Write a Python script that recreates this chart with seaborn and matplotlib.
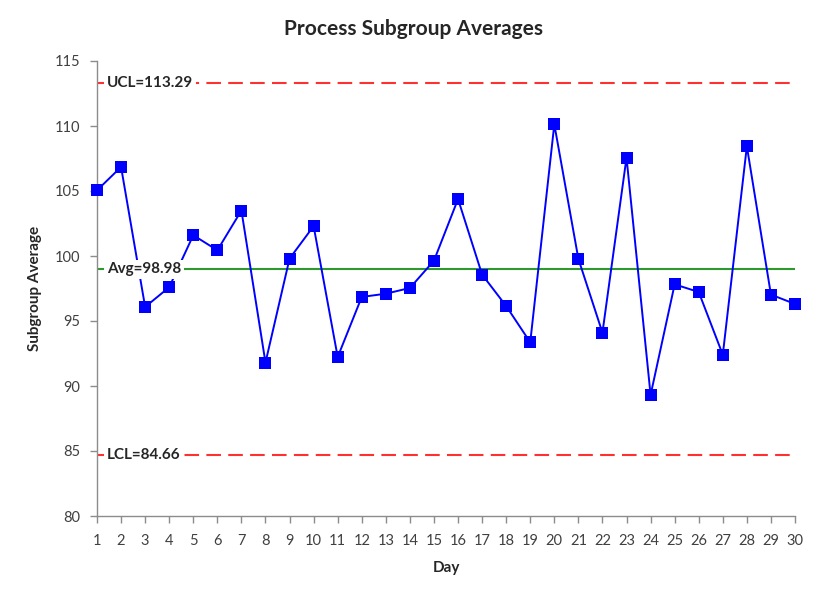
import matplotlib
matplotlib.use("Agg")
import matplotlib.pyplot as plt
import seaborn as sns
import pandas as pd

days = list(range(1, 31))
averages = [105.05, 106.85, 96.08, 97.6, 101.6, 100.44, 103.5, 91.8, 99.8, 102.3,
            92.23, 96.85, 97.1, 97.54, 99.64, 104.38, 98.57, 96.15, 93.36, 110.13,
            99.78, 94.1, 107.57, 89.31, 97.82, 97.23, 92.4, 108.44, 97.03, 96.31]
ucl = 113.29
avg = 98.98
lcl = 84.66
y_ticks = [80, 85, 90, 95, 100, 105, 110, 115]

sns.set_style("white")
plt.rcParams['font.family'] = ['Lato', 'DejaVu Sans']

df = pd.DataFrame({"Day": days, "Subgroup Average": averages})

fig = plt.figure(figsize=(8.14, 5.94), dpi=100)
ax = fig.add_axes([97/814, 1 - 516/594, (795-97)/814, (516-61)/594])

sns.lineplot(data=df, x="Day", y="Subgroup Average", ax=ax, color="#0000FF",
             linewidth=1.4, marker="s", markersize=8, markeredgewidth=0,
             markerfacecolor="#0000FF", zorder=3, clip_on=False)

ax.axhline(ucl, color="#FF3030", linestyle=(0, (7, 3.5)), linewidth=1.5, zorder=2)
ax.axhline(lcl, color="#FF3030", linestyle=(0, (7, 3.5)), linewidth=1.5, zorder=2)
ax.axhline(avg, color="#2E9A2E", linewidth=1.5, zorder=2)

box = dict(facecolor="white", edgecolor="none", pad=2)
for val, lab in [(ucl, f"UCL={ucl:.2f}"), (avg, f"Avg={avg:.2f}"), (lcl, f"LCL={lcl:.2f}")]:
    ax.text(1.42, val, lab, ha="left", va="center", fontsize=11, fontweight="bold",
            color="#262626", bbox=box, zorder=4)

ax.set_xlim(1, 30)
ax.set_ylim(80, 115)
ax.set_xticks(days)
ax.set_yticks(y_ticks)
ax.tick_params(axis="both", which="major", length=5, width=1, color="#8C8C8C",
               labelsize=10.5, labelcolor="#404040", direction="out", bottom=True, left=True)
ax.tick_params(axis="x", pad=8)
ax.tick_params(axis="y", pad=7)
for s in ["top", "right"]:
    ax.spines[s].set_visible(False)
for s in ["left", "bottom"]:
    ax.spines[s].set_color("#8C8C8C")
    ax.spines[s].set_linewidth(1)

ax.set_xlabel("Day", fontsize=11, fontweight="bold", color="#262626", labelpad=9)
ax.set_ylabel("Subgroup Average", fontsize=11, fontweight="bold", color="#262626", labelpad=9)
fig.suptitle("Process Subgroup Averages", x=413/814, y=1 - 19/594, fontsize=15,
             fontweight="bold", color="#262626", va="top")

fig.savefig("out.png", dpi=100)
